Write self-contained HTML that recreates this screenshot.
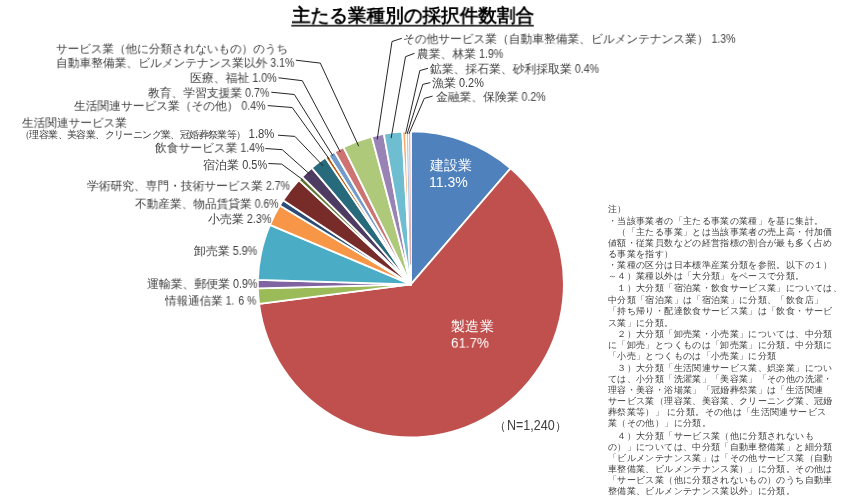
<!DOCTYPE html>
<html lang="ja"><head><meta charset="utf-8">
<style>
html,body{margin:0;padding:0;background:#fff;}
body{width:858px;height:499px;position:relative;overflow:hidden;-webkit-font-smoothing:antialiased;font-family:"Liberation Sans",sans-serif;color:#404040;}
.lb{position:absolute;will-change:transform;white-space:nowrap;font-size:11.5px;line-height:14px;}
.sm{font-size:9.4px;}
.pc{display:inline-block;font-size:12.9px;transform:scaleX(0.84);transform-origin:0 0;}
.nt{position:absolute;will-change:transform;left:608px;white-space:nowrap;font-size:9.36px;line-height:11px;letter-spacing:0.36px;}
.title{position:absolute;will-change:transform;white-space:nowrap;font-size:18.5px;line-height:20px;font-weight:bold;color:#000;}
.in{position:absolute;will-change:transform;color:#fff;font-size:13.8px;line-height:16px;white-space:nowrap;}
svg{position:absolute;left:0;top:0;}
</style></head><body>
<svg width="858" height="499" viewBox="0 0 858 499">
<g stroke="#fff" stroke-width="1.8" stroke-linejoin="round">
<path d="M410.85,284.45 L410.85,131.45 A153.0,153.0 0 0 1 510.51,168.36 Z" fill="#4F81BD"/>
<path d="M410.85,284.45 L510.51,168.36 A153.0,153.0 0 1 1 259.08,303.78 Z" fill="#C0504D"/>
<path d="M410.85,284.45 L259.08,303.78 A153.0,153.0 0 0 1 257.90,288.33 Z" fill="#9BBB59"/>
<path d="M410.85,284.45 L257.90,288.33 A153.0,153.0 0 0 1 257.92,279.80 Z" fill="#8064A2"/>
<path d="M410.85,284.45 L257.92,279.80 A153.0,153.0 0 0 1 269.95,224.83 Z" fill="#4BACC6"/>
<path d="M410.85,284.45 L269.95,224.83 A153.0,153.0 0 0 1 279.79,205.50 Z" fill="#F79646"/>
<path d="M410.85,284.45 L279.79,205.50 A153.0,153.0 0 0 1 283.10,200.26 Z" fill="#2C4D75"/>
<path d="M410.85,284.45 L283.10,200.26 A153.0,153.0 0 0 1 298.89,180.17 Z" fill="#772C2A"/>
<path d="M410.85,284.45 L298.89,180.17 A153.0,153.0 0 0 1 302.12,176.81 Z" fill="#5F7530"/>
<path d="M410.85,284.45 L302.12,176.81 A153.0,153.0 0 0 1 311.78,167.86 Z" fill="#4D3B62"/>
<path d="M410.85,284.45 L311.78,167.86 A153.0,153.0 0 0 1 325.36,157.56 Z" fill="#276A7C"/>
<path d="M410.85,284.45 L325.36,157.56 A153.0,153.0 0 0 1 328.61,155.43 Z" fill="#B65708"/>
<path d="M410.85,284.45 L328.61,155.43 A153.0,153.0 0 0 1 334.57,151.82 Z" fill="#729ACA"/>
<path d="M410.85,284.45 L334.57,151.82 A153.0,153.0 0 0 1 343.47,147.09 Z" fill="#CD7371"/>
<path d="M410.85,284.45 L343.47,147.09 A153.0,153.0 0 0 1 371.75,136.53 Z" fill="#AFC97A"/>
<path d="M410.85,284.45 L371.75,136.53 A153.0,153.0 0 0 1 383.86,133.85 Z" fill="#9983B5"/>
<path d="M410.85,284.45 L383.86,133.85 A153.0,153.0 0 0 1 402.33,131.69 Z" fill="#6FBDD1"/>
<path d="M410.85,284.45 L402.33,131.69 A153.0,153.0 0 0 1 406.20,131.52 Z" fill="#F9AB6B"/>
<path d="M410.85,284.45 L406.20,131.52 A153.0,153.0 0 0 1 408.52,131.47 Z" fill="#A7C0DE"/>
<path d="M410.85,284.45 L408.52,131.47 A153.0,153.0 0 0 1 410.85,131.45 Z" fill="#DFA7A6"/>
<line x1="410.39" y1="264.46" x2="407.38" y2="132.49" stroke="#A7C0DE" stroke-width="0.9"/>
<line x1="410.70" y1="264.45" x2="409.69" y2="132.45" stroke="#DFA7A6" stroke-width="0.9"/>

</g>
<g fill="none" stroke="#262626" stroke-width="1">
<polyline points="295.8,60.2 320.3,63.1 358.7,146.2"/>
<polyline points="278.5,77.8 302.3,80.7 340.4,152.1"/>
<polyline points="271.3,92.2 294.4,94.5 332.8,155.7"/>
<polyline points="267.7,105.6 292.2,107.5 329.5,159.3"/>
<polyline points="278.0,135.2 294.9,136.4 323.2,165.9"/>
<polyline points="265.4,148.5 282.3,149.7 309.9,174.3"/>
<polyline points="268.4,163.5 281.7,164.1 302.7,179.7"/>
<polyline points="401.8,38.3 392.0,41.5 377.2,139.4"/>
<polyline points="414.5,53.3 405.5,56.7 391.1,138.2"/>
<polyline points="428.0,68.3 419.8,70.6 405.6,133.8"/>
<polyline points="430.3,82.6 422.8,84.4 407.2,133.8"/>
<polyline points="432.6,96.1 424.3,98.4 408.9,133.8"/>
</g>
<rect x="291.3" y="24.8" width="242.5" height="1.8" fill="#333"/>
</svg>
<div id="t" class="title" style="left:292.30px;top:5.72px;transform:scale(0.9805,0.9805);transform-origin:0 0;">主たる業種別の採択件数割合</div>
<div id="l1" class="lb" style="left:56.20px;top:41.62px;transform:scale(0.9665,0.9665);transform-origin:0 0;">サービス業（他に分類されないもの）のうち</div>
<div id="l2" class="lb" style="left:55.92px;top:55.64px;transform:scale(0.9785,0.9785);transform-origin:0 0;">自動車整備業、ビルメンテナンス業以外 <span class="pc">3.1%</span></div>
<div id="l3" class="lb" style="left:189.51px;top:71.41px;transform:scale(0.9895,0.9895);transform-origin:0 0;">医療、福祉 <span class="pc">1.0%</span></div>
<div id="l4" class="lb" style="left:148.10px;top:86.19px;transform:scale(0.9813,0.9813);transform-origin:0 0;">教育、学習支援業 <span class="pc">0.7%</span></div>
<div id="l5" class="lb" style="left:73.90px;top:99.39px;transform:scale(0.9790,0.9790);transform-origin:0 0;">生活関連サービス業（その他） <span class="pc">0.4%</span></div>
<div id="l6" class="lb" style="left:21.70px;top:116.16px;transform:scale(0.9710,0.9710);transform-origin:0 0;">生活関連サービス業</div>
<div id="l7" class="lb" style="left:19.94px;top:127.30px;transform:scale(1.0439,1.0439);transform-origin:0 0;"><span class="sm">（理容業、美容業、クリーニング業、冠婚葬祭業等）</span> <span class="pc">1.8%</span></div>
<div id="l8" class="lb" style="left:154.80px;top:141.47px;transform:scale(0.9811,0.9811);transform-origin:0 0;">飲食サービス業 <span class="pc">1.4%</span></div>
<div id="l9" class="lb" style="left:203.29px;top:157.54px;transform:scale(1.0065,1.0065);transform-origin:0 0;">宿泊業 <span class="pc">0.5%</span></div>
<div id="l10" class="lb" style="left:87.10px;top:179.29px;transform:scale(0.9773,0.9773);transform-origin:0 0;">学術研究、専門・技術サービス業 <span class="pc">2.7%</span></div>
<div id="l11" class="lb" style="left:134.90px;top:196.88px;transform:scale(0.9728,0.9728);transform-origin:0 0;">不動産業、物品賃貸業 <span class="pc">0.6%</span></div>
<div id="l12" class="lb" style="left:207.90px;top:211.96px;transform:scale(0.9952,0.9952);transform-origin:0 0;">小売業 <span class="pc">2.3%</span></div>
<div id="l13" class="lb" style="left:194.20px;top:244.03px;transform:scale(0.9921,0.9921);transform-origin:0 0;">卸売業 <span class="pc">5.9%</span></div>
<div id="l14" class="lb" style="left:147.30px;top:277.15px;transform:scale(0.9883,0.9883);transform-origin:0 0;">運輸業、郵便業 <span class="pc">0.9%</span></div>
<div id="l15" class="lb" style="left:165.00px;top:293.69px;transform:scale(0.9621,0.9621);transform-origin:0 0;">情報通信業 <span class="pc">1.<span style="letter-spacing:1.5px"> </span>6 %</span></div>
<div id="r1" class="lb" style="left:403.02px;top:32.12px;transform:scale(0.9793,0.9793);transform-origin:0 0;">その他サービス業（自動車整備業、ビルメンテナンス業） <span class="pc">1.3%</span></div>
<div id="r2" class="lb" style="left:416.80px;top:47.00px;transform:scale(0.9839,0.9839);transform-origin:0 0;">農業、林業 <span class="pc">1.9%</span></div>
<div id="r3" class="lb" style="left:430.30px;top:61.97px;transform:scale(0.9848,0.9848);transform-origin:0 0;">鉱業、採石業、砂利採取業 <span class="pc">0.4%</span></div>
<div id="r4" class="lb" style="left:431.80px;top:75.77px;transform:scale(1.0020,1.0020);transform-origin:0 0;">漁業 <span class="pc">0.2%</span></div>
<div id="r5" class="lb" style="left:436.30px;top:90.04px;transform:scale(0.9829,0.9829);transform-origin:0 0;">金融業、保険業 <span class="pc">0.2%</span></div>
<div id="i1" class="in" style="left:429.60px;top:158.10px;transform:scale(1.0049,1.0049);transform-origin:0 0;">建設業</div>
<div id="i2" class="in" style="left:428.58px;top:175.21px;transform:scale(1.0189,1.0189);transform-origin:0 0;">11.3%</div>
<div id="i3" class="in" style="left:450.67px;top:318.62px;transform:scale(1.0300,1.0300);transform-origin:0 0;">製造業</div>
<div id="i4" class="in" style="left:451.23px;top:336.25px;transform:scale(0.9684,0.9684);transform-origin:0 0;">61.7%</div>
<div id="n" class="lb" style="left:493.87px;top:418.46px;transform:scale(1.0788,1.0788);transform-origin:0 0;">（<span class="pc" style="transform:scaleX(0.9);margin-right:-4.9px">N=1,240</span>）</div>
<div class="nt" style="top:204.12px">注）</div>
<div class="nt" style="top:215.52px">・当該事業者の「主たる事業の業種」を基に集計。</div>
<div class="nt" style="top:227.12px">　（「主たる事業」とは当該事業者の売上高・付加価</div>
<div class="nt" style="top:237.82px">値額・従業員数などの経営指標の割合が最も多く占め</div>
<div class="nt" style="top:249.02px">る事業を指す）</div>
<div class="nt" style="top:260.22px">・業種の区分は日本標準産業分類を参照。以下の１）</div>
<div class="nt" style="top:270.62px">～４）業種以外は「大分類」をベースで分類。</div>
<div class="nt" style="top:283.42px">　１）大分類「宿泊業・飲食サービス業」については、</div>
<div class="nt" style="top:295.12px">中分類「宿泊業」は「宿泊業」に分類、「飲食店」</div>
<div class="nt" style="top:306.42px">「持ち帰り・配達飲食サービス業」は「飲食・サービ</div>
<div class="nt" style="top:317.62px">ス業」に分類。</div>
<div class="nt" style="top:329.22px">　２）大分類「卸売業・小売業」については、中分類</div>
<div class="nt" style="top:340.02px">に「卸売」とつくものは「卸売業」に分類。中分類に</div>
<div class="nt" style="top:350.92px">「小売」とつくものは「小売業」に分類</div>
<div class="nt" style="top:362.52px">　３）大分類「生活関連サービス業、娯楽業」につい</div>
<div class="nt" style="top:373.72px">ては、小分類「洗濯業」「美容業」「その他の洗濯・</div>
<div class="nt" style="top:385.42px">理容・美容・浴場業」「冠婚葬祭業」は「生活関連</div>
<div class="nt" style="top:396.22px">サービス業（理容業、美容業、クリーニング業、冠婚</div>
<div class="nt" style="top:407.02px">葬祭業等）」 に分類。その他は「生活関連サービス</div>
<div class="nt" style="top:418.22px">業（その他）」に分類。</div>
<div class="nt" style="top:430.62px">　４）大分類「サービス業（他に分類されないも</div>
<div class="nt" style="top:441.82px">の）」については、中分類「自動車整備業」と細分類</div>
<div class="nt" style="top:452.92px">「ビルメンテナンス業」は「その他サービス業（自動</div>
<div class="nt" style="top:463.62px">車整備業、ビルメンテナンス業）」に分類。その他は</div>
<div class="nt" style="top:475.12px">「サービス業（他に分類されないもの）のうち自動車</div>
<div class="nt" style="top:485.72px">整備業、ビルメンテナンス業以外」に分類。</div>
</body></html>
